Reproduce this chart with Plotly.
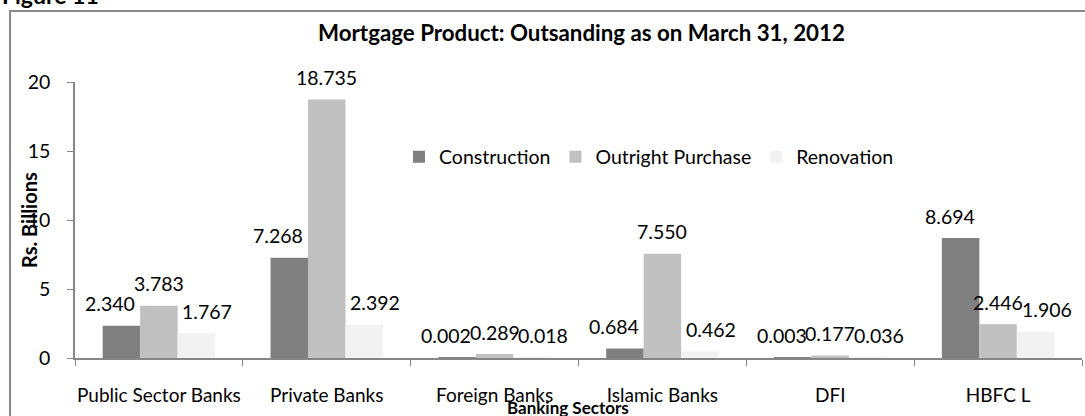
import plotly.graph_objects as go

# data
sectors = ["Public Sector Banks", "Private Banks", "Foreign Banks", "Islamic Banks", "DFI", "HBFC L"]
construction = [2.340, 7.268, 0.002, 0.684, 0.003, 8.694]
outright_purchase = [3.783, 18.735, 0.289, 7.550, 0.177, 2.446]
renovation = [1.767, 2.392, 0.018, 0.462, 0.036, 1.906]

series = [
    ("Construction", construction, "#808080"),
    ("Outright Purchase", outright_purchase, "#c0c0c0"),
    ("Renovation", renovation, "#f2f2f2"),
]

FONT = "Lato"
FS = 19.5
W, H = 1085, 416
ML, MR, MT, MB = 75, 3, 82, 58
BARGAP = 0.33
plot_w = W - ML - MR
plot_h = H - MT - MB
bar_px = plot_w / len(sectors) * (1 - BARGAP) / len(series)


def px_x(x):
    return (x - ML) / plot_w


def px_y(y):
    return (H - MB - y) / plot_h


fig = go.Figure()
for name, vals, color in series:
    fig.add_trace(go.Bar(x=sectors, y=vals, name=name, marker_color=color, marker_line_width=0))

# data labels, Excel style: above each bar, outer ones pushed a bit sideways
annotations = []
for i, (name, vals, color) in enumerate(series):
    for s, v in zip(sectors, vals):
        annotations.append(dict(
            x=s, y=v, text=f"{v:.3f}", showarrow=False,
            xshift=(i - 1) * (bar_px + 11), yshift=22, yanchor="middle",
            font=dict(family=FONT, size=FS, color="#000"),
        ))

annotations += [
    dict(text="<b>Mortgage Product: Outsanding as on March 31, 2012</b>", xref="paper", yref="paper",
         x=px_x(581), y=px_y(32), xanchor="center", yanchor="middle", showarrow=False,
         font=dict(family=FONT, size=22.3, color="#000")),
    dict(text="<b>Banking Sectors</b>", xref="paper", yref="paper", x=px_x(568), y=px_y(407),
         xanchor="center", yanchor="middle", showarrow=False, font=dict(family=FONT, size=17, color="#000")),
    dict(text="<b>Rs. Billions</b>", xref="paper", yref="paper", x=px_x(29), y=px_y(220), textangle=-90,
         xanchor="center", yanchor="middle", showarrow=False, font=dict(family=FONT, size=20, color="#000")),
    dict(text="<b>Figure 11</b>", xref="paper", yref="paper", x=px_x(0), y=px_y(-5), xanchor="left",
         yanchor="middle", showarrow=False, font=dict(family=FONT, size=23, color="#000")),
]

fig.update_layout(
    width=W, height=H,
    margin=dict(l=ML, r=MR, t=MT, b=MB, autoexpand=False),
    paper_bgcolor="white", plot_bgcolor="white",
    barmode="group", bargap=BARGAP, bargroupgap=0,
    font=dict(family=FONT, size=FS, color="#000"),
    showlegend=True,
    legend=dict(orientation="h", x=px_x(399), y=px_y(157), xanchor="left", yanchor="middle",
                bgcolor="rgba(0,0,0,0)", font=dict(family=FONT, size=FS)),
    annotations=annotations,
    shapes=[dict(type="rect", xref="paper", yref="paper", x0=px_x(10), x1=px_x(1200),
                 y0=px_y(500), y1=px_y(11), line=dict(color="#888888", width=2), layer="below")],
)
fig.update_xaxes(showline=True, linecolor="#868686", linewidth=1.5, ticks="outside", tickson="boundaries",
                 ticklen=6, tickcolor="#868686", showgrid=False, ticklabelstandoff=19,
                 tickangle=0, automargin=False, tickfont=dict(size=19))
fig.update_yaxes(range=[0, 20], dtick=5, showline=True, linecolor="#868686", linewidth=1.5, ticks="outside",
                 ticklen=6, tickcolor="#868686", showgrid=False, zeroline=False, ticklabelstandoff=13,
                 automargin=False)

# the page would otherwise add the browser's default 8px body margin
fig.write_html("out.html", config={"displayModeBar": False},
               post_script="document.body.style.margin='0px';")
